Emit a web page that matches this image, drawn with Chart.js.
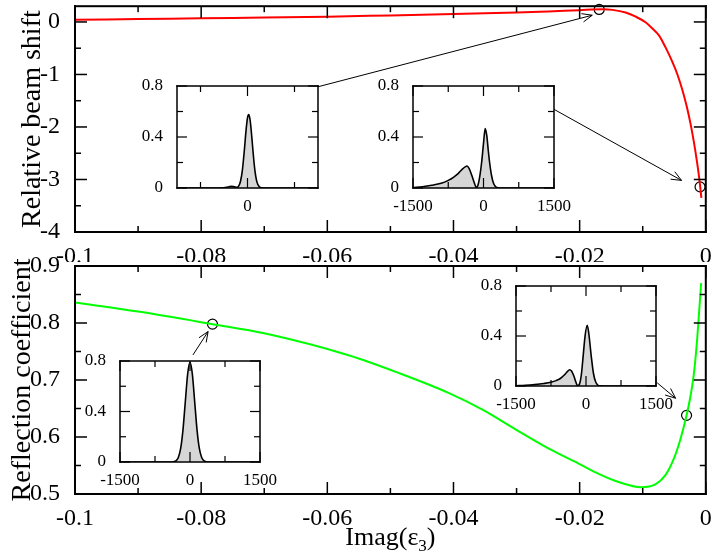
<!DOCTYPE html>
<html>
<head>
<meta charset="utf-8">
<script src="https://cdn.jsdelivr.net/npm/chart.js@4.4.0/dist/chart.umd.min.js"></script>
<style>
  html, body { margin: 0; padding: 0; background: #fff; }
  #wrap { position: relative; width: 712px; height: 559px; overflow: hidden; }
  canvas { position: absolute; }
</style>
</head>
<body>
<div id="wrap">
  <canvas id="top" width="712" height="262" style="left:0;top:0"></canvas>
  <canvas id="bottom" width="712" height="309" style="left:0;top:250px"></canvas>
  <canvas id="in1" width="186" height="134" style="left:137px;top:78px"></canvas>
  <canvas id="in2" width="201" height="134" style="left:373px;top:78px"></canvas>
  <canvas id="in3" width="200" height="133" style="left:80px;top:353px"></canvas>
  <canvas id="in4" width="200" height="132" style="left:476px;top:278px"></canvas>
</div>
<script>
const FONT = "'Liberation Serif', 'Times New Roman', serif";

// --- main panels: x = Imag(eps3) ---
const xTicks = [-0.1, -0.08, -0.06, -0.04, -0.02, 0];
const xMinor = [-0.09, -0.07, -0.05, -0.03, -0.01];

// relative beam shift (top)
const shiftX = [-0.1, -0.09, -0.08, -0.07, -0.06, -0.05, -0.04, -0.03, -0.025, -0.02, -0.0164, -0.0148, -0.0127, -0.0111,
  -0.0095, -0.0085, -0.0074, -0.0064, -0.0053, -0.0045, -0.0037, -0.003, -0.0024, -0.0019, -0.0014, -0.0011, -0.0009, -0.0007];
const shiftY = [0.04, 0.055, 0.07, 0.085, 0.1, 0.125, 0.15, 0.18, 0.2, 0.225, 0.24, 0.23, 0.18, 0.10,
  -0.01, -0.12, -0.26, -0.48, -0.76, -1.0, -1.3, -1.62, -1.95, -2.28, -2.66, -2.92, -3.12, -3.35];
const shiftMarkX = [-0.0169, -0.00091];
const shiftMarkY = [0.238, -3.14];
const shiftTicks = [-4, -3, -2, -1, 0];
const shiftMinor = [-3.5, -2.5, -1.5, -0.5];

// reflection coefficient (bottom)
const reflX = [-0.1, -0.09, -0.0782, -0.07, -0.0565, -0.0486, -0.0407, -0.0354, -0.0301, -0.0248, -0.0201, -0.0169,
  -0.0138, -0.0103, -0.008, -0.0064, -0.0051, -0.004, -0.00305, -0.00242, -0.0019, -0.00138, -0.00074];
const reflY = [0.836, 0.82, 0.798, 0.782, 0.743, 0.712, 0.677, 0.648, 0.613, 0.579, 0.553, 0.535,
  0.521, 0.512, 0.517, 0.533, 0.561, 0.597, 0.638, 0.672, 0.71, 0.77, 0.87];
const reflMarkX = [-0.0782, -0.00305];
const reflMarkY = [0.798, 0.638];
const reflTicks = [0.5, 0.6, 0.7, 0.8, 0.9];
const reflMinor = [0.55, 0.65, 0.75, 0.85];

// --- insets: beam profiles ---
const profYTicks = [0, 0.4, 0.8];
const profYMinor = [0.2, 0.6];
const profXTicks = [-1500, 0, 1500];
const profXMinor = [-750, 750];
const prof1XTicks = [0];
const prof1XMinor = [-1000, 1000];

const prof1X = [-1500, -800, -500, -420, -345, -280, -220, -189, -150, -110, -68, -30, 0, 24, 50, 70, 100, 117, 140, 160, 200, 250, 308, 400, 1500];
const prof1Y = [0, 0, 0.002, 0.008, 0.013, 0.009, 0.005, 0.014, 0.051, 0.137, 0.292, 0.456, 0.55, 0.576, 0.546, 0.486, 0.363, 0.288, 0.196, 0.131, 0.048, 0.01, 0.001, 0, 0];

const prof2X = [-1500, -1300, -1100, -900, -750, -640, -540, -450, -390, -350, -310, -250, -200, -150, -120, -80, -40, 0, 36, 70, 100, 130, 170, 215, 260, 310, 400, 1500];
const prof2Y = [0.004, 0.01, 0.021, 0.037, 0.06, 0.084, 0.113, 0.148, 0.166, 0.172, 0.155, 0.10, 0.045, 0.004, 0.02, 0.09, 0.2, 0.35, 0.466, 0.41, 0.30, 0.2, 0.1, 0.035, 0.01, 0.002, 0, 0];

const prof3X = [-1500, -600, -400, -350, -300, -250, -200, -150, -100, -50, 0, 50, 100, 150, 200, 250, 300, 350, 400, 600, 1500];
const prof3Y = [0, 0, 0, 0.002, 0.009, 0.035, 0.107, 0.257, 0.479, 0.697, 0.79, 0.697, 0.479, 0.257, 0.107, 0.035, 0.009, 0.002, 0, 0, 0];

const prof4X = [-1500, -1300, -1100, -900, -750, -640, -550, -460, -400, -352, -310, -260, -215, -181, -140, -100, -60, -20, 26, 60, 111, 160, 210, 260, 300, 400, 1500];
const prof4Y = [0.002, 0.005, 0.011, 0.02, 0.03, 0.043, 0.06, 0.09, 0.115, 0.13, 0.12, 0.08, 0.03, 0.002, 0.015, 0.09, 0.243, 0.4, 0.486, 0.42, 0.243, 0.1, 0.03, 0.006, 0.001, 0, 0];

// arrow anchors (data coords of the main panel): [from, to]
const topArrows = [[[-0.06166, -1.24], [-0.018, 0.128]], [[-0.02421, -1.654], [-0.00385, -3.017]]];
const bottomArrows = [[[-0.0813, 0.744], [-0.0789, 0.785]], [[-0.0077, 0.695], [-0.00479, 0.668]]];

const pts = (xs, ys) => xs.map((x, i) => ({ x, y: ys[i] }));
const setTicks = list => s => { s.ticks = list.map(v => ({ value: v })); };
const fixSize = (dim, size) => s => {
  s[dim] = size;
  s.paddingTop = s.paddingBottom = s.paddingLeft = s.paddingRight = 0;
};

// one plugin per chart: white plot area, box with inward ticks, arrows, x title
function makeDecor(o) {
  return {
    id: 'decor',
    beforeDraw(chart) {
      if (!o.fill) return;
      const { ctx, chartArea: a } = chart;
      ctx.save();
      ctx.fillStyle = '#fff';
      ctx.fillRect(a.left, a.top, a.right - a.left, a.bottom - a.top);
      ctx.restore();
    },
    afterDraw(chart) {
      const ctx = chart.ctx, x = chart.scales.x, y = chart.scales.y;
      const L = x.left, R = x.right, T = y.top, B = y.bottom;
      const w = o.lw, t = o.tw;
      ctx.save();
      ctx.fillStyle = '#000';
      // box
      ctx.fillRect(L - w / 2, T - w / 2, R - L + w, w);
      ctx.fillRect(L - w / 2, B - w / 2, R - L + w, w);
      ctx.fillRect(L - w / 2, T - w / 2, w, B - T + w);
      ctx.fillRect(R - w / 2, T - w / 2, w, B - T + w);
      // inward ticks on all four sides
      const xt = (vals, len) => vals.forEach(v => {
        const p = x.getPixelForValue(v);
        ctx.fillRect(p - t / 2, B - len, t, len);
        ctx.fillRect(p - t / 2, T, t, len);
      });
      const yt = (vals, len) => vals.forEach(v => {
        const p = y.getPixelForValue(v);
        ctx.fillRect(L, p - t / 2, len, t);
        ctx.fillRect(R - len, p - t / 2, len, t);
      });
      xt(o.xMajor, o.major); xt(o.xMinor, o.minor);
      yt(o.yMajor, o.major); yt(o.yMinor, o.minor);

      // arrows with open heads
      ctx.strokeStyle = '#000';
      ctx.lineWidth = 1;
      (o.arrows || []).forEach(([from, to]) => {
        const x0 = x.getPixelForValue(from[0]), y0 = y.getPixelForValue(from[1]);
        const x1 = x.getPixelForValue(to[0]), y1 = y.getPixelForValue(to[1]);
        const ang = Math.atan2(y1 - y0, x1 - x0);
        ctx.beginPath();
        ctx.moveTo(x0, y0); ctx.lineTo(x1, y1);
        for (const s of [-1, 1]) {
          ctx.moveTo(x1, y1);
          ctx.lineTo(x1 - 11 * Math.cos(ang + s * 0.4), y1 - 11 * Math.sin(ang + s * 0.4));
        }
        ctx.stroke();
      });

      // x title with a real subscript
      const tt = o.xTitle;
      if (tt) {
        const big = '26px ' + FONT, small = '17px ' + FONT;
        ctx.textBaseline = 'alphabetic';
        ctx.textAlign = 'left';
        ctx.font = big;
        const w1 = ctx.measureText(tt.main).width, w3 = ctx.measureText(tt.close).width;
        ctx.font = small;
        const w2 = ctx.measureText(tt.sub).width;
        let px = (L + R) / 2 - (w1 + w2 + w3) / 2;
        const base = B + tt.offset;
        ctx.font = big; ctx.fillText(tt.main, px, base); px += w1;
        ctx.font = small; ctx.fillText(tt.sub, px, base + 6); px += w2;
        ctx.font = big; ctx.fillText(tt.close, px, base);
      }
      ctx.restore();
    }
  };
}

function panel(id, o) {
  return new Chart(document.getElementById(id), {
    type: 'line',
    data: {
      datasets: [
        { data: pts(o.xs, o.ys), borderColor: o.color, borderWidth: 2, pointRadius: 0, cubicInterpolationMode: 'monotone' },
        { data: pts(o.mx, o.my), showLine: false, clip: false, pointRadius: 5, pointBackgroundColor: '#fff',
          pointBorderColor: '#000', pointBorderWidth: 1.2 }
      ]
    },
    options: {
      responsive: false,
      animation: false,
      layout: { padding: { top: o.padTop, right: 5, left: 0, bottom: 0 } },
      plugins: { legend: { display: false }, tooltip: { enabled: false } },
      scales: {
        x: {
          type: 'linear', min: -0.1, max: 0,
          afterBuildTicks: setTicks(xTicks),
          afterFit: fixSize('height', o.xHeight),
          grid: { display: false }, border: { display: true, color: '#000', width: 2 },
          ticks: { color: '#000', font: { family: FONT, size: 24 }, padding: 2, maxRotation: 0, autoSkip: false, callback: v => String(v) }
        },
        y: {
          min: o.yMin, max: o.yMax,
          afterBuildTicks: setTicks(o.yTicks),
          afterFit: fixSize('width', 75),
          grid: { display: false }, border: { display: true, color: '#000', width: 2 },
          ticks: { color: '#000', font: { family: FONT, size: 24 }, padding: 7, callback: v => String(v) },
          title: { display: true, text: o.yTitle, color: '#000', font: { family: FONT, size: 28 }, padding: { top: o.titlePad, bottom: 0 } }
        }
      }
    },
    plugins: [makeDecor({
      lw: 2, tw: 1.5, major: 12, minor: 6,
      xMajor: xTicks, xMinor: xMinor, yMajor: o.yTicks, yMinor: o.yMinor,
      arrows: o.arrows, xTitle: o.xTitle
    })]
  });
}

function profile(id, xs, ys, xLabels, xMin, padRight) {
  return new Chart(document.getElementById(id), {
    type: 'line',
    data: {
      datasets: [{ data: pts(xs, ys), borderColor: '#000', borderWidth: 1.6, backgroundColor: '#d6d6d6',
        fill: 'origin', pointRadius: 0, cubicInterpolationMode: 'monotone' }]
    },
    options: {
      responsive: false,
      animation: false,
      layout: { padding: { top: 8, right: padRight, left: 0, bottom: 0 } },
      plugins: { legend: { display: false }, tooltip: { enabled: false } },
      scales: {
        x: {
          type: 'linear', min: -1500, max: 1500,
          afterBuildTicks: setTicks(xLabels),
          afterFit: fixSize('height', 24),
          grid: { display: false }, border: { display: false },
          ticks: { color: '#000', font: { family: FONT, size: 17 }, padding: 0, maxRotation: 0, autoSkip: false, callback: v => String(v) }
        },
        y: {
          min: 0, max: 0.8,
          afterBuildTicks: setTicks(profYTicks),
          afterFit: fixSize('width', 40),
          grid: { display: false }, border: { display: false },
          ticks: { color: '#000', font: { family: FONT, size: 17 }, padding: 6, callback: v => String(v) }
        }
      }
    },
    plugins: [makeDecor({
      fill: true, lw: 1.5, tw: 1.2, major: 10, minor: 6,
      xMajor: xLabels, xMinor: xMin, yMajor: profYTicks, yMinor: profYMinor
    })]
  });
}

panel('top', {
  xs: shiftX, ys: shiftY, mx: shiftMarkX, my: shiftMarkY, color: '#ff0000',
  yMin: -4, yMax: 0.3, yTicks: shiftTicks, yMinor: shiftMinor,
  yTitle: 'Relative beam shift', titlePad: 16, padTop: 3, xHeight: 30, arrows: topArrows
});

panel('bottom', {
  xs: reflX, ys: reflY, mx: reflMarkX, my: reflMarkY, color: '#00ff00',
  yMin: 0.5, yMax: 0.9, yTicks: reflTicks, yMinor: reflMinor,
  yTitle: 'Reflection coefficient', titlePad: 6, padTop: 16, xHeight: 65, arrows: bottomArrows,
  xTitle: { main: 'Imag(\u03b5', sub: '3', close: ')', offset: 51 }
});

profile('in1', prof1X, prof1Y, prof1XTicks, prof1XMinor, 5);
profile('in2', prof2X, prof2Y, profXTicks, profXMinor, 20);
profile('in3', prof3X, prof3Y, profXTicks, profXMinor, 20);
profile('in4', prof4X, prof4Y, profXTicks, profXMinor, 20);
</script>
</body>
</html>
